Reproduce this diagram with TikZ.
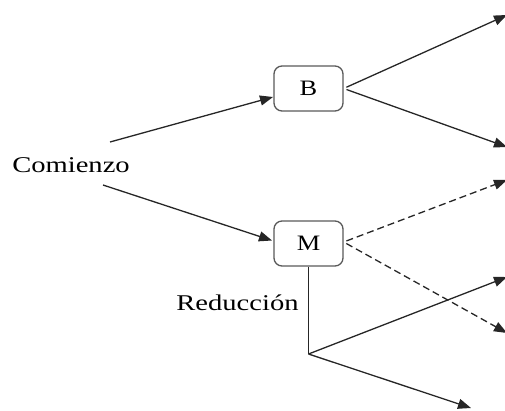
\documentclass[tikz,border=0pt]{standalone}
\usepackage{fontspec}
\setmainfont{Liberation Serif}
\usetikzlibrary{arrows.meta,calc}
\begin{document}
\begin{tikzpicture}[x=1pt,y=-1pt,
  stage/.style={draw=black!65,line width=1.3pt,rounded corners=8pt,
    minimum width=69pt,minimum height=45pt,inner sep=0pt,
    font=\fontsize{22}{26}\selectfont},
  label/.style={inner sep=0pt,font=\fontsize{22.5}{27}\selectfont},
  link/.style={line width=1.3pt,draw=black!85},
  arr/.style={link,-{Triangle[length=13pt,width=10pt]}},
  darr/.style={arr,dashed,dash pattern=on 7pt off 4pt},
]
\useasboundingbox (0,0) rectangle (505,410);

% labels
\node[label] (com) at (71,165) {\scalebox{1.27}[1]{Comienzo}};
\node[label] (red) at (237.5,303) {\scalebox{1.27}[1]{Reducción}};

% stages
\node[stage] (B) at (308.5,88.5) {\scalebox{1.2}[1]{B}};
\node[stage] (M) at (308.5,243.5) {\scalebox{1.2}[1]{M}};

% line ends
\coordinate (c1) at (110,142);
\coordinate (c2) at (103,185);
\coordinate (bin) at (273,97);
\coordinate (min) at (272,240.5);
\coordinate (b1) at (507,15);
\coordinate (b2) at (507,147);
\coordinate (m1) at (507,180);
\coordinate (m2) at (507,333);
\coordinate (j) at (308.5,354);
\coordinate (r1) at (507,277);
\coordinate (r2) at (471,408);

% connectors
\draw[arr] (c1) -- (bin);
\draw[arr] (c2) -- (min);
\draw[arr,shorten <=3pt] (B.east) -- (b1);
\draw[arr,shorten <=3pt] (B.east) -- (b2);
\draw[darr,shorten <=3pt] ($(M.east)+(0,-1.5)$) -- (m1);
\draw[darr,shorten <=3pt] ($(M.east)+(0,-1.5)$) -- (m2);
\draw[link] (M.south) -- (j);
\draw[arr] (j) -- (r1);
\draw[arr] (j) -- (r2);
\end{tikzpicture}
\end{document}
